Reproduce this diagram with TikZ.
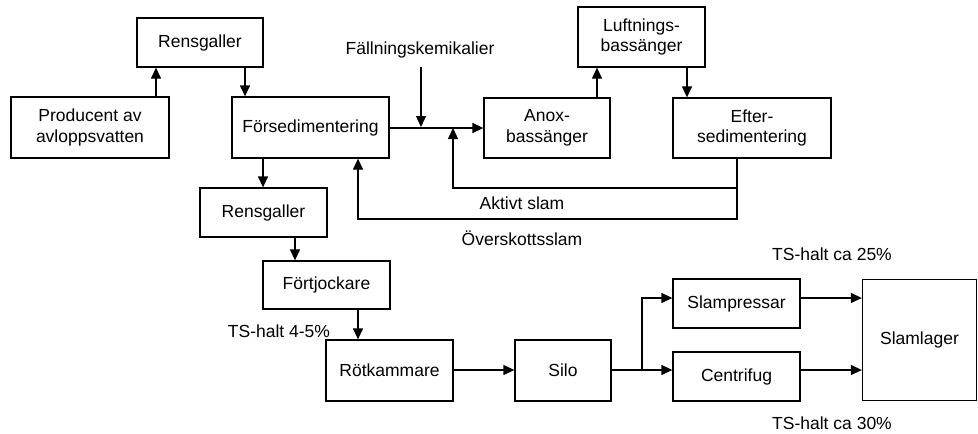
\documentclass[tikz,border=0pt]{standalone}
\usepackage{fontspec}
\setmainfont{Liberation Sans}
\usetikzlibrary{arrows.meta,calc}
\begin{document}
\begin{tikzpicture}[x=1pt,y=-1pt,
  box/.style={draw,line width=1.3pt,inner sep=0pt,align=center,
    font=\fontsize{17.5}{20.5}\selectfont},
  lbl/.style={inner sep=0pt,font=\fontsize{17.5}{20.5}\selectfont},
  arr/.style={line width=1.3pt,-{Triangle[length=11pt,width=10pt]}},
  ln/.style={line width=1.3pt}]
\useasboundingbox (0,0) rectangle (978,434);
% boxes
\node[box,minimum width=126pt,minimum height=49pt] (rens1) at (200,42.5) {Rensgaller};
\node[box,minimum width=158pt,minimum height=61pt] (prod) at (90,127.5) {Producent av\\avloppsvatten};
\node[box,minimum width=157pt,minimum height=61pt] (forsed) at (310.5,127.5) {Försedimentering};
\node[box,minimum width=127pt,minimum height=49pt] (rens2) at (263.5,212.5) {Rensgaller};
\node[box,minimum width=127pt,minimum height=48pt] (fortj) at (326.5,285) {Förtjockare};
\node[box,minimum width=127pt,minimum height=61pt] (rot) at (389.5,370.5) {Rötkammare};
\node[box,minimum width=96pt,minimum height=61pt] (silo) at (563,370.5) {Silo};
\node[box,minimum width=126pt,minimum height=60pt] (anox) at (547,128) {Anox-\\bassänger};
\node[box,minimum width=127pt,minimum height=60pt] (luft) at (641.5,37) {Luftnings-\\bassänger};
\node[box,minimum width=158pt,minimum height=60pt] (efter) at (752,128) {Efter-\\sedimentering};
\node[box,minimum width=127pt,minimum height=49pt] (slamp) at (736.5,303.5) {Slampressar};
\node[box,minimum width=127pt,minimum height=49pt] (centr) at (736.5,376.5) {Centrifug};
\node[box,minimum width=114pt,minimum height=121pt] (slaml) at (919.5,340) {Slamlager};
% labels
\node[lbl] (fk) at (420,50) {Fällningskemikalier};
\node[lbl] (akt) at (522,203) {Aktivt slam};
\node[lbl] (over) at (522,238) {Överskottsslam};
\node[lbl] (ts1) at (279,331) {TS-halt 4-5\%};
\node[lbl] (ts2) at (832,254) {TS-halt ca 25\%};
\node[lbl] (ts3) at (832,423) {TS-halt ca 30\%};
% coordinates
\coordinate (fkt) at (421,67);
\coordinate (split) at (642,370);
\coordinate (ret1) at (453,188);
\coordinate (ret2) at (358,219);
% connectors
\draw[arr] (156,0 |- prod.north) -- (156,0 |- rens1.south);
\draw[arr] (245,0 |- rens1.south) -- (245,0 |- forsed.north);
\draw[arr] (263,0 |- forsed.south) -- (263,0 |- rens2.north);
\draw[arr] (295,0 |- rens2.south) -- (295,0 |- fortj.north);
\draw[arr] (358,0 |- fortj.south) -- (358,0 |- rot.north);
\draw[arr] (rot.east |- 0,370) -- (silo.west |- 0,370);
\draw[ln] (silo.east |- split) -- (split);
\draw[arr] (split) |- (slamp.west |- 0,298);
\draw[arr] (split) -- (centr.west |- split);
\draw[arr] (slamp.east |- 0,298) -- (slaml.west |- 0,298);
\draw[arr] (centr.east |- 0,370) -- (slaml.west |- 0,370);
\draw[arr] (forsed.east |- 0,128) -- (anox.west |- 0,128);
\draw[arr] (fkt) -- (421,127);
\draw[arr] (597,0 |- anox.north) -- (597,0 |- luft.south);
\draw[arr] (687,0 |- luft.south) -- (687,0 |- efter.north);
\draw[arr] (737,0 |- efter.south) |- (ret1) -- (453,128);
\draw[arr] (737,188) |- (ret2) -- (358,0 |- forsed.south);
\end{tikzpicture}
\end{document}
